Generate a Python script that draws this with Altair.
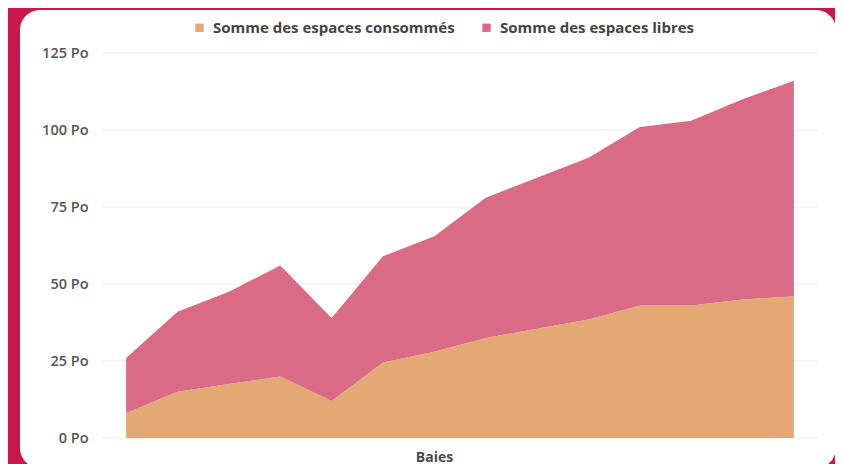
import altair as alt
import pandas as pd

baies = list(range(1, 15))
consommes = [8, 15, 17.5, 20, 12, 24.5, 28, 32.5, 35.5, 38.5, 43, 43, 45, 46]
libres = [18, 26, 30, 36, 27, 34.5, 37.5, 45.5, 49, 52.5, 58, 60, 65, 70]
series = ["Somme des espaces consommés", "Somme des espaces libres"]
area_colors = ["#E4A874", "#DA6B86"]
y_ticks = [0, 25, 50, 75, 100, 125]

rows = []
for b, c, l in zip(baies, consommes, libres):
    rows.append({"Baies": b, "serie": series[0], "valeur": c, "ordre": 0})
    rows.append({"Baies": b, "serie": series[1], "valeur": l, "ordre": 1})
df = pd.DataFrame(rows)

W, H = 716, 385
FONT = "Open Sans"

y_scale = alt.Scale(domain=[0, 125], nice=False)
y_axis = alt.Axis(
    title=None, values=y_ticks, labelExpr="datum.value + ' Po'",
    ticks=False, domain=False, grid=False, zindex=1,
    labelFont=FONT, labelFontSize=14.5, labelFontWeight=600,
    labelColor="#555555", labelPadding=14,
)

card = alt.Chart(alt.Data(values=[{}])).mark_rect(
    color="white", cornerRadius=20
).encode(
    x=alt.value(-82), x2=alt.value(734), y=alt.value(-43), y2=alt.value(415)
)

grid = alt.Chart(pd.DataFrame({"t": y_ticks})).mark_rule(
    color="#EBEBEB", strokeWidth=1.2
).encode(
    y=alt.Y("t:Q", scale=y_scale, axis=y_axis),
    x=alt.value(0), x2=alt.value(W),
)

areas = alt.Chart(df).mark_area(opacity=1).encode(
    x=alt.X(
        "Baies:O",
        scale=alt.Scale(type="point", padding=0.47),
        axis=alt.Axis(
            title="Baies", labels=False, ticks=False, domain=False, grid=False,
            titleFont=FONT, titleFontSize=14, titleFontWeight="bold",
            titleColor="#4A4A4A", titlePadding=12, titleX=332, zindex=1,
        ),
    ),
    y=alt.Y("valeur:Q", stack="zero", scale=y_scale, axis=y_axis),
    color=alt.Color(
        "serie:N",
        scale=alt.Scale(domain=series, range=area_colors),
        legend=alt.Legend(
            title=None, orient="none", legendX=90, legendY=-33,
            direction="horizontal", symbolType="square", symbolSize=70,
            symbolOpacity=1, symbolStrokeWidth=0, labelLimit=0,
            labelFont=FONT, labelFontSize=15, labelFontWeight="bold",
            labelColor="#444444", labelOffset=6, columnPadding=24,
        ),
    ),
    order=alt.Order("ordre:Q"),
)

chart = alt.layer(card, grid, areas).properties(
    width=W, height=H,
    background="#C8174A",
    padding={"left": 94, "top": 45, "right": 17, "bottom": 26},
    autosize=alt.AutoSizeParams(type="none"),
).configure_view(stroke=None)

chart.save("out.html", embed_options={"renderer": "svg", "actions": False})
